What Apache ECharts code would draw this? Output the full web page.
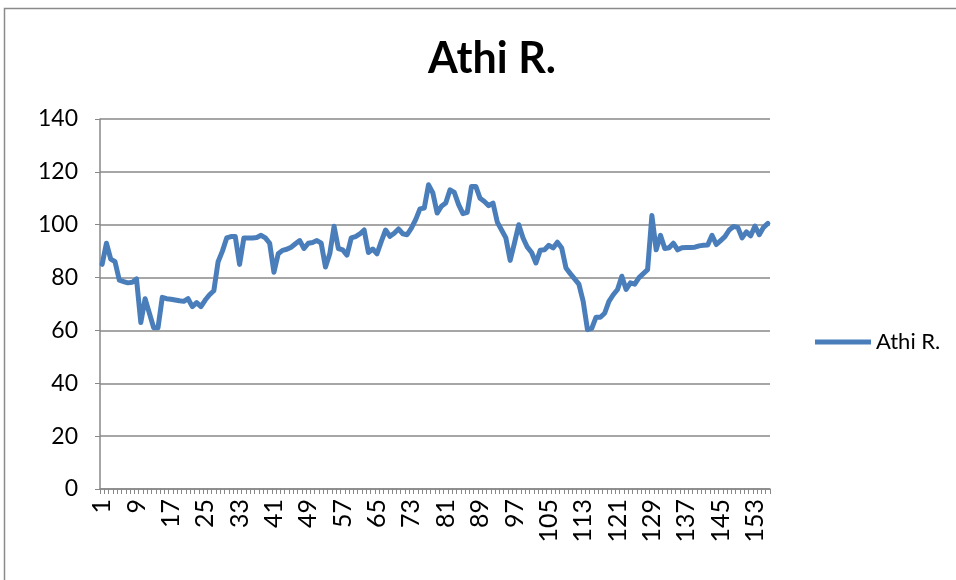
<!DOCTYPE html>
<html>
<head>
<meta charset="utf-8">
<script src="https://cdn.jsdelivr.net/npm/echarts@6/dist/echarts.min.js"></script>
<style>
  html, body { margin: 0; padding: 0; background: #fff; }
  #chart { width: 956px; height: 580px; }
</style>
</head>
<body>
<div id="chart"></div>
<script>
// series values, one per day-index
const athiSeg1 = [85, 93, 87, 86, 79, 78.5, 78, 78.2, 79.5, 63, 72, 66.5, 61, 61, 72.5, 72, 71.8, 71.5, 71.2, 71,
  72, 69, 70.5, 69, 71.5, 73.5, 75, 86, 90, 95, 95.5];
const athiSeg2 = [95.5, 85, 95, 95, 95, 95.2, 96, 95, 93, 82, 89, 90.3, 90.7, 91.5, 92.8, 94, 91, 93, 93.3, 94,
  93, 84, 89, 99.4, 91, 90.5, 88.5, 95, 95.5, 96.5, 98, 89.5];
const athiSeg3 = [90.8, 89, 93.7, 98, 95.6, 96.8, 98.4, 96.6, 96.2, 98.7, 101.9, 106, 106.3, 115.1, 112, 104.4,
  107, 108.2, 113.2, 112.2, 107.6, 104.2, 104.7, 114.5, 114.5, 110, 108.8, 107.2, 108.2, 101];
const athiSeg4 = [98, 95, 86.5, 93, 100, 95, 91.5, 89.5, 85.5, 90.3, 90.5, 92.2, 91.2, 93.4, 91.2, 83.6, 81.5,
  79.5, 77.5, 71, 60.3, 60.8, 65, 65, 66.5, 71, 73.5, 75.5, 80.5, 75.5, 78, 77.5, 80, 81.5, 83];
const athiSeg5 = [103.5, 90.5, 96, 91, 91.3, 93, 90.5, 91.3, 91.4, 91.4, 91.5, 92, 92.2, 92.3, 96, 92.5, 94,
  95.5, 98, 99.3, 99, 95, 97.3, 95.8, 99.5, 96.2, 99, 100.5];
const athiValues = [].concat(athiSeg1, athiSeg2, athiSeg3, athiSeg4, athiSeg5);

const categories = athiValues.map((v, i) => String(i + 1));
const yTicks = { min: 0, max: 140, interval: 20 };
const seriesName = 'Athi R.';

let myChart = echarts.init(document.getElementById('chart'));
const gray = '#888888';
const blue = '#4A7EBB';
const font = 'Lato';

let option = {
  backgroundColor: '#fff',
  animation: false,
  title: {
    text: seriesName,
    left: 487,
    textAlign: 'center',
    top: 33,
    textStyle: { fontFamily: font, fontSize: 43, fontWeight: 'bold', color: '#000' }
  },
  graphic: [{
    type: 'rect',
    shape: { x: 4.5, y: 8.5, width: 1200, height: 1200 },
    style: { fill: 'none', stroke: '#8a8a8a', lineWidth: 1.5 },
    silent: true
  }],
  legend: {
    left: 810,
    top: 326,
    itemWidth: 56,
    itemHeight: 5,
    itemGap: 4,
    icon: 'rect',
    data: [seriesName],
    textStyle: { fontFamily: font, fontSize: 22, color: '#000', padding: [0, 0, 0, 0] }
  },
  grid: { left: 100, right: 186, top: 119, bottom: 91, containLabel: false },
  xAxis: {
    type: 'category',
    data: categories,
    boundaryGap: true,
    axisLine: { lineStyle: { color: gray, width: 1.5 } },
    axisTick: { show: true, interval: 0, length: 5, lineStyle: { color: gray } },
    axisLabel: { interval: 7, rotate: 90, margin: 10, fontFamily: font, fontSize: 25, color: '#000' },
    splitLine: { show: false }
  },
  yAxis: {
    type: 'value',
    min: yTicks.min,
    max: yTicks.max,
    interval: yTicks.interval,
    axisLine: { show: true, lineStyle: { color: gray, width: 1.5 } },
    axisTick: { show: true, length: 5, lineStyle: { color: gray } },
    axisLabel: { margin: 22, fontFamily: font, fontSize: 23, color: '#000' },
    splitLine: { lineStyle: { color: gray, width: 1.5 } }
  },
  series: [{
    name: seriesName,
    type: 'line',
    data: athiValues,
    showSymbol: false,
    symbol: 'none',
    color: blue,
    itemStyle: { color: blue },
    lineStyle: { color: blue, width: 5, join: 'round', cap: 'round' }
  }]
};
myChart.setOption(option);
</script>
</body>
</html>
